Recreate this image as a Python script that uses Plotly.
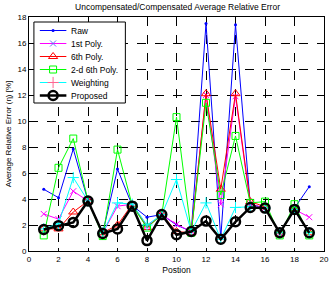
import plotly.graph_objects as go

positions = list(range(1, 20))
raw = [4.75, 4.1, 7.85, 3.85, 1.4, 6.3, 3.5, 2.6, 2.8, 2.0, 1.5, 17.5, 1.0, 17.4, 3.6, 3.3, 1.4, 3.3, 4.95]
poly1 = [2.85, 2.45, 4.6, 3.85, 1.4, 3.45, 3.6, 1.9, 2.8, 2.05, 1.5, 12.0, 3.6, 11.9, 3.6, 3.3, 1.4, 3.2, 2.6]
poly6 = [1.7, 1.7, 3.0, 3.85, 1.4, 2.0, 3.6, 1.8, 2.8, 1.5, 1.4, 12.1, 4.75, 12.1, 3.8, 3.4, 1.3, 3.3, 1.4]
poly2d6 = [1.2, 6.4, 8.65, 3.85, 1.15, 7.8, 3.5, 1.8, 2.8, 10.3, 1.4, 11.4, 4.3, 8.85, 3.7, 3.8, 1.2, 3.6, 1.2]
weighting = [1.7, 2.1, 5.65, 3.85, 1.4, 3.7, 3.6, 2.0, 2.8, 5.5, 1.5, 3.7, 0.9, 3.35, 3.4, 3.3, 1.4, 3.2, 1.4]
proposed = [1.65, 1.95, 2.2, 3.85, 1.35, 1.7, 3.45, 0.8, 2.8, 1.25, 1.5, 2.3, 0.9, 2.25, 3.35, 3.3, 1.4, 3.2, 1.4]

series_names = ["Raw", "1st Poly.", "6th Poly.", "2-d 6th Poly.", "Weighting", "Proposed"]
series_values = [raw, poly1, poly6, poly2d6, weighting, proposed]

x_ticks = list(range(0, 21, 2))
y_ticks = list(range(0, 19, 2))

styles = [
    ("#0000ff", 1, dict(symbol="circle", size=3, color="#0000ff")),
    ("#ff00ff", 1, dict(symbol="x-thin-open", size=6, line=dict(color="#ff00ff", width=1))),
    ("#ff0000", 1, dict(symbol="triangle-up-open", size=8, line=dict(color="#ff0000", width=1), color="#ff0000")),
    ("#00ff00", 1, dict(symbol="square-open", size=7, line=dict(color="#00ff00", width=1), color="#00ff00")),
    ("#00ffff", 1, dict(symbol="cross-thin-open", size=8, line=dict(color="#00ffff", width=1))),
    ("#000000", 2.5, dict(symbol="circle-open", size=9, line=dict(color="#000000", width=2.5), color="#000000")),
]

fig = go.Figure()
for name, vals, (color, lw, marker) in zip(series_names, series_values, styles):
    fig.add_trace(go.Scatter(x=positions, y=vals, mode="lines+markers", name=name,
                             line=dict(color=color, width=lw), marker=marker, showlegend=False))

# Manual MATLAB-style compact legend (pixel-like overlay axes)
box_l, box_r, box_t, box_b = 34, 127, 22, 103
fig.add_trace(go.Scatter(x=[box_l, box_r, box_r, box_l, box_l], y=[box_t, box_t, box_b, box_b, box_t],
                         mode="lines", fill="toself", fillcolor="white",
                         line=dict(color="black", width=1), xaxis="x2", yaxis="y2",
                         showlegend=False, hoverinfo="skip"))
row_y0, row_dy = 30.5, 13
line_x0, line_x1, text_x = 40, 67, 70
for i, (name, (color, lw, marker)) in enumerate(zip(series_names, styles)):
    yc = row_y0 + i * row_dy
    fig.add_trace(go.Scatter(x=[line_x0, line_x1], y=[yc, yc], mode="lines",
                             line=dict(color=color, width=lw), xaxis="x2", yaxis="y2",
                             showlegend=False, hoverinfo="skip"))
    fig.add_trace(go.Scatter(x=[(line_x0 + line_x1) / 2], y=[yc], mode="markers",
                             marker=marker, xaxis="x2", yaxis="y2",
                             showlegend=False, hoverinfo="skip"))
    fig.add_annotation(x=text_x, y=yc, xref="x2", yref="y2", text=name, showarrow=False,
                       xanchor="left", yanchor="middle", font=dict(size=8.5, color="black"))

axis_common = dict(
    showline=True, linecolor="black", linewidth=1, mirror="ticks",
    ticks="inside", ticklen=3, tickcolor="black",
    showgrid=True, gridcolor="black", griddash="dash", gridwidth=0.6,
    zeroline=False, tickfont=dict(size=8, color="black"),
)

fig.update_layout(
    width=335, height=283,
    margin=dict(l=29, r=6, t=17, b=32),
    paper_bgcolor="white", plot_bgcolor="white",
    font=dict(family="Liberation Sans, Arial, sans-serif", size=8, color="black"),
    title=dict(text="Uncompensated/Compensated Average Relative Error", x=0.53, xanchor="center",
               y=0.985, yanchor="top", font=dict(size=8.5)),
    xaxis=dict(range=[0, 20], tickvals=x_ticks, title=dict(text="Postion", standoff=4, font=dict(size=8.5)), **axis_common),
    yaxis=dict(range=[0, 18], tickvals=y_ticks, title=dict(text="Average Relative Error (η) [%]", standoff=4, font=dict(size=8)), **axis_common),
    xaxis2=dict(overlaying="x", range=[29, 329], visible=False, fixedrange=True),
    yaxis2=dict(overlaying="y", range=[251, 17], visible=False, fixedrange=True),
    showlegend=False,
)

fig.write_html("out.html")
